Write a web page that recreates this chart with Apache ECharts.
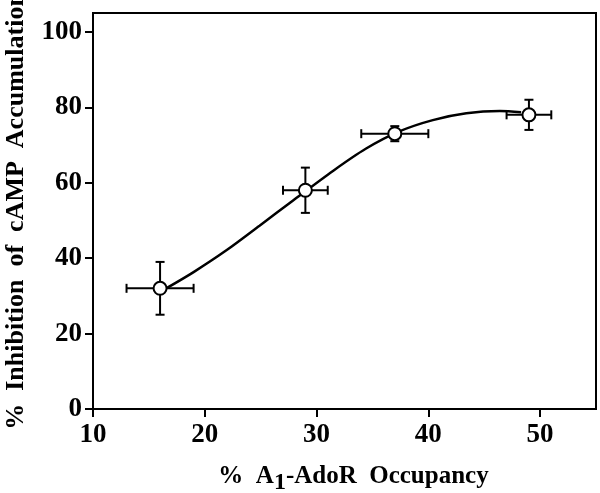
<!DOCTYPE html>
<html>
<head>
<meta charset="utf-8">
<script src="https://cdn.jsdelivr.net/npm/echarts@6/dist/echarts.min.js"></script>
<style>html,body{margin:0;padding:0;background:#fff;}#c{width:600px;height:493px;}</style>
</head>
<body>
<div id="c"></div>
<script>
// Data points (x = % A1-AdoR occupancy, y = % inhibition of cAMP accumulation)
var occupancy = [16, 29, 37, 49];
var inhibition = [32, 58, 73, 78];
var occupancyErr = [3, 2, 3, 2];
var inhibitionErr = [7, 6, 2, 4];
// Fitted curve
var curveX = [16.5, 19.0, 21.9, 24.9, 27.9, 31.5, 34.4, 37.4, 40.4, 43.4, 46.4, 48.3];
var curveY = [31.9, 36.3, 42.0, 48.6, 55.3, 63.2, 69.0, 73.6, 76.6, 78.4, 79.0, 78.7];
var xTicks = [10, 20, 30, 40, 50];
var yTicks = [0, 20, 40, 60, 80, 100];

var FONT = 'Liberation Serif';
var chart = echarts.init(document.getElementById('c'), null, {renderer: 'canvas'});

var pts = occupancy.map(function (x, i) { return [x, inhibition[i]]; });
var errData = occupancy.map(function (x, i) { return [x, inhibition[i], occupancyErr[i], inhibitionErr[i]]; });
var curve = curveX.map(function (x, i) { return [x, curveY[i]]; });

function errItem(params, api) {
  var x = api.value(0), y = api.value(1), ex = api.value(2), ey = api.value(3);
  var l = api.coord([x - ex, y]), r = api.coord([x + ex, y]);
  var t = api.coord([x, y + ey]), b = api.coord([x, y - ey]);
  var cap = 4.5;
  var st = {stroke: '#000', lineWidth: 2};
  function ln(x1, y1, x2, y2) { return {type: 'line', shape: {x1: x1, y1: y1, x2: x2, y2: y2}, style: st}; }
  return {type: 'group', children: [
    ln(l[0], l[1], r[0], r[1]),
    ln(t[0], t[1], b[0], b[1]),
    ln(l[0], l[1] - cap, l[0], l[1] + cap),
    ln(r[0], r[1] - cap, r[0], r[1] + cap),
    ln(t[0] - cap, t[1], t[0] + cap, t[1]),
    ln(b[0] - cap, b[1], b[0] + cap, b[1])
  ]};
}

var option = {
  animation: false,
  backgroundColor: '#fff',
  grid: {left: 93, right: 4, top: 13, bottom: 84, containLabel: false, outerBoundsMode: 'none',
         show: true, borderColor: '#000', borderWidth: 2, backgroundColor: 'transparent'},
  xAxis: {
    type: 'value', min: 10, max: 55, interval: 10,
    name: '{a|%  A}{s|1}{a|-AdoR  Occupancy}',
    nameLocation: 'middle', nameGap: 50,
    nameTextStyle: {
      padding: [0, 0, 0, 18],
      rich: {
        a: {fontFamily: FONT, fontWeight: 'bold', fontSize: 25, color: '#000'},
        s: {fontFamily: FONT, fontWeight: 'bold', fontSize: 24, color: '#000', padding: [12, 0, 0, 0]}
      }
    },
    axisLine: {show: true, lineStyle: {color: '#000', width: 2}},
    axisTick: {show: true, inside: false, length: 8, customValues: xTicks, lineStyle: {color: '#000', width: 2}},
    splitLine: {show: false},
    axisLabel: {
      margin: 13, fontFamily: FONT, fontWeight: 'bold', fontSize: 27, color: '#000',
      customValues: xTicks
    }
  },
  yAxis: {
    type: 'value', min: 0, max: 105, interval: 20,
    name: '%  Inhibition  of  cAMP  Accumulation',
    nameLocation: 'middle', nameGap: 64,
    nameTextStyle: {fontFamily: FONT, fontWeight: 'bold', fontSize: 26, color: '#000'},
    axisLine: {show: true, lineStyle: {color: '#000', width: 2}},
    axisTick: {show: true, inside: false, length: 8, customValues: yTicks, lineStyle: {color: '#000', width: 2}},
    splitLine: {show: false},
    axisLabel: {
      margin: 11, fontFamily: FONT, fontWeight: 'bold', fontSize: 27, color: '#000',
      customValues: yTicks
    }
  },
  series: [
    {
      type: 'line', data: curve, smooth: 0.3, showSymbol: false, symbol: 'none',
      lineStyle: {color: '#000', width: 2.5}, z: 2
    },
    {
      type: 'custom', data: errData, renderItem: errItem, z: 3,
      encode: {x: 0, y: 1}
    },
    {
      type: 'scatter', data: pts, symbol: 'circle', symbolSize: 13,
      itemStyle: {color: '#fff', borderColor: '#000', borderWidth: 2, opacity: 1}, z: 4
    }
  ]
};
chart.setOption(option);
</script>
</body>
</html>
